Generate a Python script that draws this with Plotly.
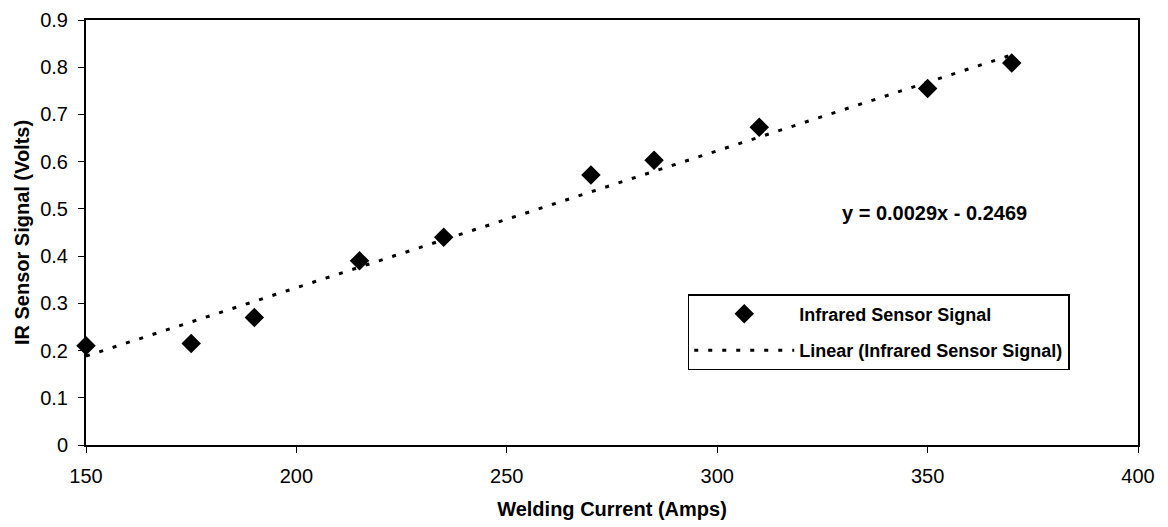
import plotly.graph_objects as go

# Data
current_amps = [150, 175, 190, 215, 235, 270, 285, 310, 350, 370]
ir_signal_volts = [0.21, 0.215, 0.27, 0.39, 0.44, 0.572, 0.603, 0.673, 0.755, 0.809]

# Linear trendline as given by the chart's equation
trend_slope = 0.0029
trend_intercept = -0.2469
trend_x = [min(current_amps), max(current_amps)]
trend_y = [trend_slope * x + trend_intercept for x in trend_x]

x_ticks = [150, 200, 250, 300, 350, 400]
y_ticks = [0, 0.1, 0.2, 0.3, 0.4, 0.5, 0.6, 0.7, 0.8, 0.9]

FONT = "Liberation Sans, Arial, sans-serif"

fig = go.Figure()
fig.add_trace(go.Scatter(
    x=current_amps, y=ir_signal_volts, mode="markers",
    name="Infrared Sensor Signal", legendgroup="data",
    marker=dict(symbol="diamond", size=15, color="black"),
    cliponaxis=False,
))
fig.add_trace(go.Scatter(
    x=trend_x, y=trend_y, mode="lines",
    name="Linear (Infrared Sensor Signal)", legendgroup="trend",
    line=dict(color="black", width=3, dash="4px,10px"),
))

fig.add_annotation(
    x=0.807, y=0.546, xref="paper", yref="paper", xanchor="center", yanchor="middle",
    text="y = 0.0029x - 0.2469", showarrow=False,
    font=dict(family=FONT, size=20, color="black", weight="bold"),
)

fig.update_layout(
    width=1168, height=527,
    margin=dict(l=78, r=38, t=12, b=90),
    paper_bgcolor="white", plot_bgcolor="white",
    font=dict(family=FONT, color="black"),
    showlegend=True,
    legend=dict(
        x=0.572, y=0.355, xanchor="left", yanchor="top",
        bordercolor="black", borderwidth=1.5, bgcolor="white",
        font=dict(family=FONT, size=18, color="black", weight="bold"),
        itemwidth=100, tracegroupgap=10,
        entrywidth=285, entrywidthmode="pixels",
    ),
    xaxis=dict(
        range=[150, 400], tickvals=x_ticks, ticktext=[str(v) for v in x_ticks],
        showgrid=False, zeroline=False, automargin=False,
        showline=True, linecolor="black", linewidth=2, mirror=True,
        ticks="outside", ticklen=6, tickcolor="black",
        ticklabelstandoff=6,
        tickfont=dict(family=FONT, size=20, color="black"),
        title=dict(text="Welding Current (Amps)", standoff=16,
                   font=dict(family=FONT, size=20, color="black", weight="bold")),
    ),
    yaxis=dict(
        range=[0, 0.9], tickvals=y_ticks, ticktext=["0"] + [f"{v:.1f}" for v in y_ticks[1:]],
        showgrid=False, zeroline=False, automargin=False,
        showline=True, linecolor="black", linewidth=2, mirror=True,
        ticks="outside", ticklen=6, tickcolor="black",
        ticklabelstandoff=6,
        tickfont=dict(family=FONT, size=20, color="black"),
        title=dict(text="IR Sensor Signal (Volts)", standoff=5,
                   font=dict(family=FONT, size=20, color="black", weight="bold")),
    ),
)

fig.write_html("out.html")
